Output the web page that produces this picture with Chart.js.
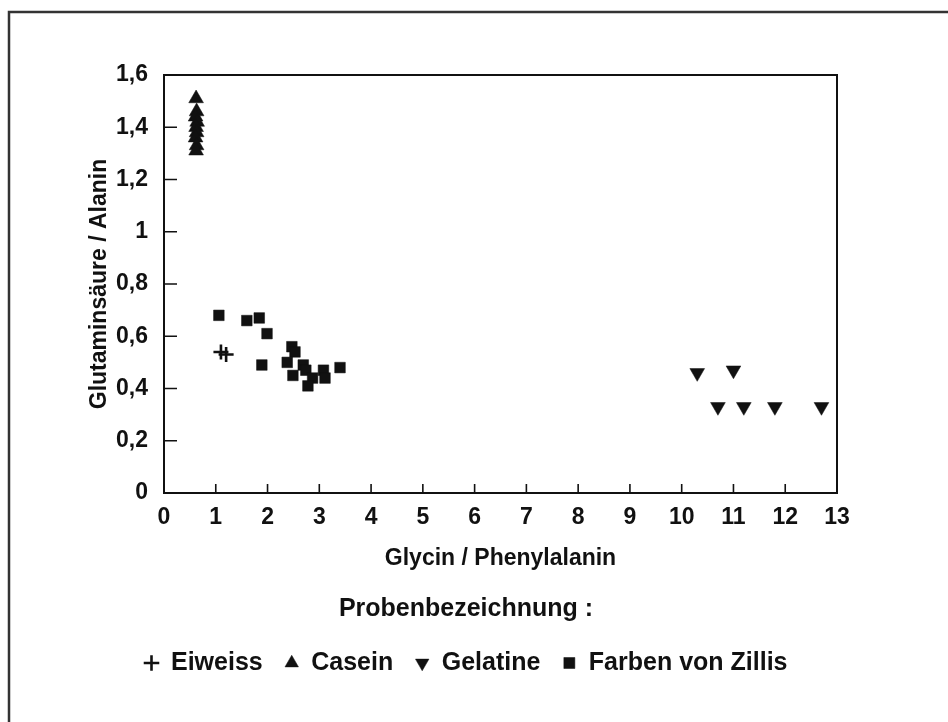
<!DOCTYPE html>
<html>
<head>
<meta charset="utf-8">
<script src="https://cdn.jsdelivr.net/npm/chart.js@4.4.1/dist/chart.umd.min.js"></script>
<style>
  html, body { margin: 0; padding: 0; background: #fff; }
  #wrap { position: relative; width: 948px; height: 722px; }
</style>
</head>
<body>
<div id="wrap"><canvas id="c"></canvas></div>
<script>
// ---- data ----
const seriesNames = ['Eiweiss', 'Casein', 'Gelatine', 'Farben von Zillis'];

const eiweissX = [1.10, 1.20];
const eiweissY = [0.54, 0.53];

const caseinX = [0.62, 0.63, 0.61, 0.64, 0.62, 0.63, 0.61, 0.63, 0.62];
const caseinY = [1.51, 1.46, 1.44, 1.42, 1.40, 1.38, 1.36, 1.33, 1.31];

const gelatineX = [10.3, 11.0, 10.7, 11.2, 11.8, 12.7];
const gelatineY = [0.46, 0.47, 0.33, 0.33, 0.33, 0.33];

const farbenX = [1.06, 1.60, 1.84, 1.99, 1.89, 2.47, 2.53, 2.38, 2.49, 2.69, 2.74, 2.87, 2.78, 3.08, 3.11, 3.40];
const farbenY = [0.68, 0.66, 0.67, 0.61, 0.49, 0.56, 0.54, 0.50, 0.45, 0.49, 0.47, 0.44, 0.41, 0.47, 0.44, 0.48];

const xTickLabels = ['0','1','2','3','4','5','6','7','8','9','10','11','12','13'];
const yTickLabels = ['0','0,2','0,4','0,6','0,8','1','1,2','1,4','1,6'];

const xTitle = 'Glycin / Phenylalanin';
const yTitle = 'Glutaminsäure / Alanin';
const legendTitle = 'Probenbezeichnung :';

// ---- helpers ----
const zip = (xs, ys) => xs.map((x, i) => ({ x: x, y: ys[i] }));
const FONT = '"Liberation Sans", Arial, Helvetica, sans-serif';
const INK = '#111111';

const framePlugin = {
  id: 'framePlugin',
  beforeDraw(chart) {
    const ctx = chart.ctx;
    ctx.save();
    ctx.strokeStyle = '#333333';
    ctx.lineWidth = 2.5;
    ctx.beginPath();
    ctx.moveTo(9, chart.height);
    ctx.lineTo(9, 12);
    ctx.lineTo(chart.width, 12);
    ctx.stroke();
    ctx.restore();
  },
  afterDatasetsDraw(chart) {
    const ctx = chart.ctx;
    const a = chart.chartArea;
    const xs = chart.scales.x, ys = chart.scales.y;
    ctx.save();
    ctx.strokeStyle = INK;
    ctx.lineWidth = 2;
    ctx.strokeRect(a.left, a.top, a.right - a.left, a.bottom - a.top);
    ctx.lineWidth = 1.6;
    ctx.beginPath();
    xs.ticks.forEach(t => {
      const px = xs.getPixelForValue(t.value);
      ctx.moveTo(px, a.bottom);
      ctx.lineTo(px, a.bottom - 9);
    });
    ys.ticks.forEach(t => {
      const py = ys.getPixelForValue(t.value);
      ctx.moveTo(a.left, py);
      ctx.lineTo(a.left + 13, py);
    });
    ctx.stroke();
    ctx.restore();
  }
};

new Chart(document.getElementById('c'), {
  type: 'scatter',
  data: {
    datasets: [
      { label: seriesNames[0], data: zip(eiweissX, eiweissY), pointStyle: 'cross',
        pointRadius: 7.5, borderColor: INK, backgroundColor: INK, pointBorderWidth: 2.6 },
      { label: seriesNames[1], data: zip(caseinX, caseinY), pointStyle: 'triangle',
        pointRadius: 8.5, borderColor: INK, backgroundColor: INK, pointBorderWidth: 0.5 },
      { label: seriesNames[2], data: zip(gelatineX, gelatineY), pointStyle: 'triangle', pointRotation: 180,
        pointRadius: 8.5, borderColor: INK, backgroundColor: INK, pointBorderWidth: 0.5 },
      { label: seriesNames[3], data: zip(farbenX, farbenY), pointStyle: 'rect',
        pointRadius: 7.5, borderColor: INK, backgroundColor: INK, pointBorderWidth: 0.5 }
    ]
  },
  options: {
    responsive: true,
    maintainAspectRatio: false,
    animation: false,
    events: [],
    layout: { padding: { left: 0, top: 75, right: 16, bottom: 36.5 } },
    scales: {
      x: {
        type: 'linear', position: 'bottom', min: 0, max: 13,
        grid: { display: false, drawTicks: false },
        border: { display: false },
        ticks: {
          stepSize: 1, padding: 11, color: INK,
          font: { family: FONT, size: 23, weight: 'bold' },
          callback: (v, i) => xTickLabels[i]
        },
        title: {
          display: true, text: xTitle, color: INK,
          font: { family: FONT, size: 23, weight: 'bold' },
          padding: { top: 0, bottom: 25 }
        },
        afterFit: s => { s.height = 104; }
      },
      y: {
        type: 'linear', position: 'left', min: 0, max: 1.6,
        grid: { display: false, drawTicks: false },
        border: { display: false },
        ticks: {
          stepSize: 0.2, padding: 16, color: INK,
          font: { family: FONT, size: 23, weight: 'bold' },
          callback: (v, i) => yTickLabels[i]
        },
        title: {
          display: true, text: yTitle, color: INK,
          font: { family: FONT, size: 23, weight: 'bold' },
          padding: { top: 86, bottom: 0 }
        },
        afterFit: s => { s.width = 164; }
      },
      yPad: {
        type: 'linear', position: 'right', display: true,
        grid: { display: false, drawTicks: false },
        border: { display: false },
        ticks: { display: false },
        afterFit: s => { s.width = 95; }
      }
    },
    plugins: {
      tooltip: { enabled: false },
      legend: {
        display: true,
        position: 'bottom',
        align: 'center',
        title: {
          display: true, text: legendTitle, color: INK,
          font: { family: FONT, size: 25, weight: 'bold' },
          padding: { top: 0, bottom: 1.5 }
        },
        labels: {
          usePointStyle: true,
          boxWidth: 14,
          boxHeight: 11,
          padding: 22,
          color: INK,
          font: { family: FONT, size: 25, weight: 'bold' }
        }
      }
    }
  },
  plugins: [framePlugin]
});
</script>
</body>
</html>
